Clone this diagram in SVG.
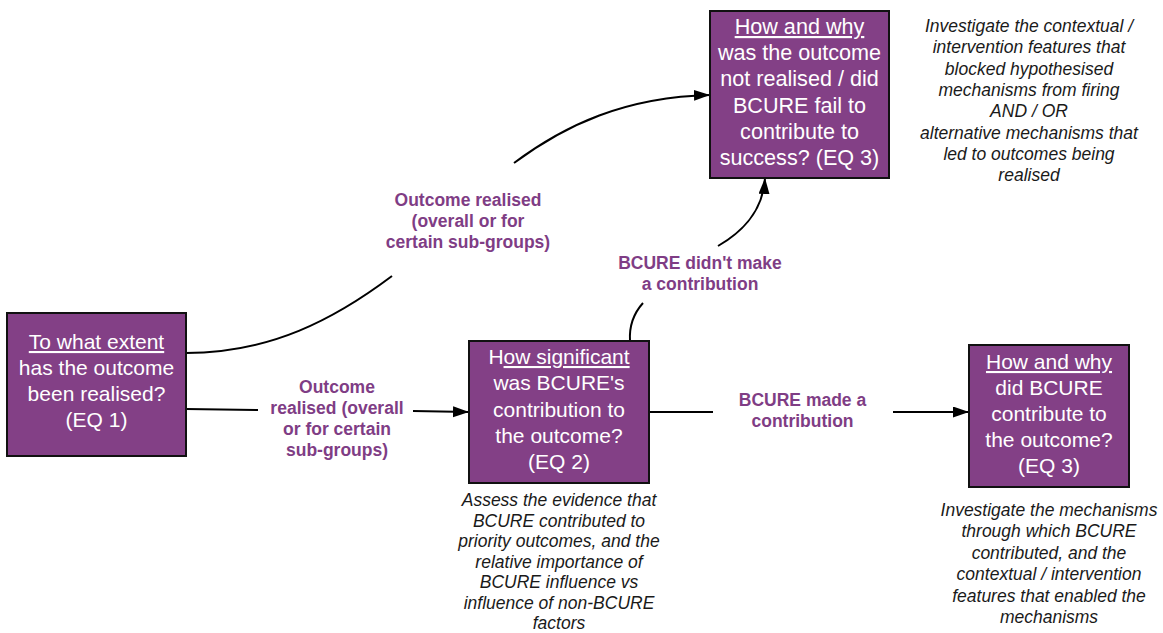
<svg xmlns="http://www.w3.org/2000/svg" width="1163" height="633" viewBox="0 0 1163 633">
<style>
.box{fill:#834086;stroke:#111;stroke-width:2}
.bt{font-family:"Liberation Sans",Arial,sans-serif;font-size:21px;fill:#fff;text-anchor:middle}
.bt3{font-size:21.6px}
.lb{font-family:"Liberation Sans",Arial,sans-serif;font-size:17.5px;font-weight:bold;fill:#7f3d85;text-anchor:middle}
.it{font-family:"Liberation Sans",Arial,sans-serif;font-size:17.5px;font-style:italic;fill:#1a1a1a;text-anchor:middle}
.u{text-decoration:underline}
.c{fill:none;stroke:#000;stroke-width:2}
</style>
<defs>
<marker id="ah" markerUnits="userSpaceOnUse" markerWidth="17" markerHeight="12" refX="16" refY="5.5" orient="auto">
<path d="M0,0 L16,5.5 L0,11 z" fill="#000"/>
</marker>
</defs>
<rect width="1163" height="633" fill="#fff"/>
<g id="connectors">
<path class="c" d="M186,409 L258,410"/>
<path class="c" d="M413,411 L469,412" marker-end="url(#ah)"/>
<path class="c" d="M186,353 C270.2,353 334,319.6 392,276"/>
<path class="c" d="M514,163 C565,125 625,97 710,95" marker-end="url(#ah)"/>
<path class="c" d="M630,341 C629,325 634,313 643,303"/>
<path class="c" d="M718,246 C742,232 763,212 765,178" marker-end="url(#ah)"/>
<path class="c" d="M649,412 L713,412"/>
<path class="c" d="M893,412 L969,412" marker-end="url(#ah)"/>
</g>
<g id="labels">
<text class="lb"><tspan x="468" y="205.5">Outcome realised</tspan><tspan x="468" y="226.5">(overall or for</tspan><tspan x="468" y="247.5">certain sub-groups)</tspan></text>
<text class="lb"><tspan x="337" y="392.5">Outcome</tspan><tspan x="337" y="413.5">realised (overall</tspan><tspan x="337" y="434.5">or for certain</tspan><tspan x="337" y="455.5">sub-groups)</tspan></text>
<text class="lb"><tspan x="700" y="269">BCURE didn't make</tspan><tspan x="700" y="290">a contribution</tspan></text>
<text class="lb"><tspan x="802.5" y="406">BCURE made a</tspan><tspan x="802.5" y="427">contribution</tspan></text>
</g>
<g id="node-eq1">
<rect class="box" x="7" y="313" width="179" height="143"/>
<text class="bt"><tspan x="96.5" y="349" class="u">To what extent</tspan><tspan x="96.5" y="375">has the outcome</tspan><tspan x="96.5" y="401">been realised?</tspan><tspan x="96.5" y="427">(EQ 1)</tspan></text>
</g>
<g id="node-eq2">
<rect class="box" x="469" y="341" width="180" height="142"/>
<text class="bt"><tspan x="559" y="364">H<tspan class="u">ow significant</tspan></tspan><tspan x="559" y="390.3">was BCURE's</tspan><tspan x="559" y="416.6">contribution to</tspan><tspan x="559" y="442.9">the outcome?</tspan><tspan x="559" y="469.2">(EQ 2)</tspan></text>
</g>
<g id="node-eq3-fail">
<rect class="box" x="710" y="11" width="179" height="167"/>
<text class="bt bt3"><tspan x="799.5" y="34" class="u">How and why</tspan><tspan x="799.5" y="60.2">was the outcome</tspan><tspan x="799.5" y="86.4">not realised / did</tspan><tspan x="799.5" y="112.6">BCURE fail to</tspan><tspan x="799.5" y="138.8">contribute to</tspan><tspan x="799.5" y="165">success? (EQ 3)</tspan></text>
</g>
<g id="node-eq3-success">
<rect class="box" x="969" y="345" width="160" height="142"/>
<text class="bt"><tspan x="1049" y="369" class="u">How and why</tspan><tspan x="1049" y="395">did BCURE</tspan><tspan x="1049" y="421">contribute to</tspan><tspan x="1049" y="447">the outcome?</tspan><tspan x="1049" y="473">(EQ 3)</tspan></text>
</g>
<g id="note-eq3-fail">
<text class="it"><tspan x="1029" y="32">Investigate the contextual /</tspan><tspan x="1029" y="53.3">intervention features that</tspan><tspan x="1029" y="74.6">blocked hypothesised</tspan><tspan x="1029" y="95.9">mechanisms from firing</tspan><tspan x="1029" y="117.2">AND / OR</tspan><tspan x="1029" y="138.5">alternative mechanisms that</tspan><tspan x="1029" y="159.8">led to outcomes being</tspan><tspan x="1029" y="181.1">realised</tspan></text>
</g>
<g id="note-eq2">
<text class="it"><tspan x="559" y="506">Assess the evidence that</tspan><tspan x="559" y="526.5">BCURE contributed to</tspan><tspan x="559" y="547">priority outcomes, and the</tspan><tspan x="559" y="567.5">relative importance of</tspan><tspan x="559" y="588">BCURE influence vs</tspan><tspan x="559" y="608.5">influence of non-BCURE</tspan><tspan x="559" y="629">factors</tspan></text>
</g>
<g id="note-eq3-success">
<text class="it"><tspan x="1049" y="516">Investigate the mechanisms</tspan><tspan x="1049" y="537.4">through which BCURE</tspan><tspan x="1049" y="558.8">contributed, and the</tspan><tspan x="1049" y="580.2">contextual / intervention</tspan><tspan x="1049" y="601.6">features that enabled the</tspan><tspan x="1049" y="623">mechanisms</tspan></text>
</g>
</svg>
